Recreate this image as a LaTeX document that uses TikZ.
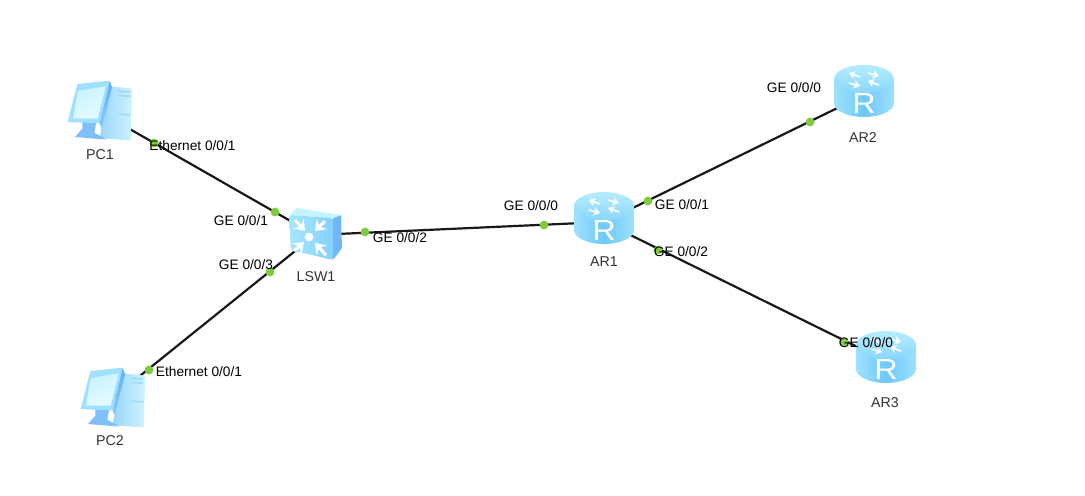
\documentclass[tikz,border=0pt]{standalone}
\usepackage{fontspec}
\usetikzlibrary{arrows.meta}
\setmainfont{Liberation Sans}
\tikzset{
  dev/.style={inner sep=0pt,minimum size=1pt},
  link/.style={draw=black!90,line width=1.25pt},
  dot/.style={circle,fill=dotgreen,inner sep=0pt,minimum size=5pt},
  port/.style={font=\fontsize{7.8}{9}\selectfont,inner sep=0pt,text=black},
  devname/.style={font=\fontsize{8.1}{9}\selectfont,inner sep=0pt,text=black!80},
  router/.pic={
    \path[left color=rbodyb,right color=rbodyb,middle color=rbodya]
      (-30,-16) -- (-30,8) arc[x radius=30,y radius=-14,start angle=180,end angle=360] -- (30,-16) -- cycle;
    \path[left color=rtopa,right color=rtopb,shading angle=0]
      (0,-16) ellipse[x radius=30,y radius=14];
    \foreach \xa/\ya/\xb/\yb in {-4/-18/-15/-22, 4/-22/15/-19, -15/-12/-4/-9, 15/-10/4/-14}{
      \draw[white,line width=1pt,-{Stealth[length=3.6pt,width=5pt]}] (\xa,\ya) -- (\xb,\yb);
    }
    \node[font=\fontsize{16.5}{17}\selectfont,text=white,inner sep=0pt,xscale=1.12,transform shape] at (0,9) {R};
  },
  switchicon/.pic={
    \path[fill=swside] (333,218) -- (341,215) -- (342,248) -- (333,260) -- cycle;
    \path[fill=swtop] (289,215) -- (297,208) -- (341,215) -- (333,218) -- cycle;
    \path[left color=swfa,right color=swfb,rounded corners=1.5pt]
      (289,215) -- (333,218) -- (333,260) -- (291,250) -- cycle;
    \fill[white] (309,237) circle[radius=4.4];
    \foreach \xa/\ya/\xb/\yb in {295/220/305/231, 325/221/315/231, 294/251/304/242, 326/255/315/243}{
      \draw[white,line width=1.7pt,-{Stealth[length=5.5pt,width=8pt,inset=1.8pt]}] (\xa,\ya) -- (\xb,\yb);
    }
  },
  pcicon/.pic={
    % tower
    \path[left color=pctowa,right color=pctowb]
      (172,48) -- (247,56) -- (242,212) -- (150,204) -- cycle;
    \fill[pcshade] (205,60) -- (240,63) -- (239,69) -- (205,67) -- cycle;
    \fill[pcshade] (205,74) -- (240,76) -- (239,81) -- (205,79) -- cycle;
    \fill[pcshade] (205,130) -- (242,132) -- (242,137) -- (205,135) -- cycle;
    % stand and base
    \fill[pcbase] (97,150) -- (140,150) -- (133,188) -- (170,209) -- (75,201) -- (97,176) -- cycle;
    % side strip
    \path[top color=pcside,bottom color=pcsideb] (179,32) -- (186,52) -- (155,175) -- (148,160) -- cycle;
    % monitor
    \fill[pcframe] (82,42) -- (179,32) -- (148,160) -- (53,156) -- cycle;
    \path[left color=pcscra,right color=pcscrb,shading angle=30]
      (83,63) -- (167,49) -- (143,146) -- (69,146) -- cycle;
  }
}
\definecolor{dotgreen}{HTML}{7FCB3C}
\definecolor{rbodya}{HTML}{6FC8F8}
\definecolor{rbodyb}{HTML}{9EE1FE}
\definecolor{rtopa}{HTML}{B5EDFF}
\definecolor{rtopb}{HTML}{8AD6FB}
\definecolor{swside}{HTML}{6DB8F8}
\definecolor{swtop}{HTML}{C5F3FF}
\definecolor{swfa}{HTML}{A5E6FF}
\definecolor{swfb}{HTML}{86D2FB}
\definecolor{pctowa}{HTML}{9AD6FC}
\definecolor{pctowb}{HTML}{CFF3FF}
\definecolor{pcshade}{HTML}{A0DCF8}
\definecolor{pcbase}{HTML}{7FBFFA}
\definecolor{pcside}{HTML}{5FB0FA}
\definecolor{pcsideb}{HTML}{8CC8FB}
\definecolor{pcframe}{HTML}{A0E0FF}
\definecolor{pcscra}{HTML}{C8F3FF}
\definecolor{pcscrb}{HTML}{E6FBFF}
\begin{document}
\begin{tikzpicture}[x=0.02cm,y=-0.02cm]
\useasboundingbox[fill=white] (0,0) rectangle (1085,495);
% device anchors
\node[dev] (PC1) at (100,112) {};
\node[dev] (PC2) at (110,400) {};
\node[dev] (LSW1) at (315,235) {};
\node[dev] (AR1) at (604,222) {};
\node[dev] (AR2) at (864,95) {};
\node[dev] (AR3) at (886,361) {};
% links
\draw[link] (PC1.center) -- (LSW1.center);
\draw[link] (PC2.center) -- (LSW1.center);
\draw[link] (LSW1.center) -- (AR1.center);
\draw[link] (AR1.center) -- (AR2.center);
\draw[link] (AR1.center) -- (AR3.center);
% icons
\pic[scale=1/3] at (50,70) {pcicon};
\pic[scale=1/3] at (63,357) {pcicon};
\pic at (0,0) {switchicon};
\pic at (604,222) {router};
\pic at (864,95) {router};
\pic at (886,361) {router};
% port dots
\foreach \n/\x/\y in {d1/154/143,d2/275/212,d3/270/272,d4/149/370,d5/365/232,d6/544/225,d7/648/201,d8/810/122,d9/658/250,d10/844/342}{
  \node[dot] (\n) at (\x,\y) {};
}
% port labels
\node[port] (p1) at (192.5,146) {Ethernet 0/0/1};
\node[port] (p2) at (241,221) {GE 0/0/1};
\node[port] (p3) at (246,265) {GE 0/0/3};
\node[port] (p4) at (199,372) {Ethernet 0/0/1};
\node[port] (p5) at (400,238) {GE 0/0/2};
\node[port] (p6) at (531,206) {GE 0/0/0};
\node[port] (p7) at (682,205) {GE 0/0/1};
\node[port] (p8) at (681,252) {GE 0/0/2};
\node[port] (p9) at (794,88) {GE 0/0/0};
\node[port] (p10) at (866,343) {GE 0/0/0};
% device names
\node[devname] (n1) at (100,155) {PC1};
\node[devname] (n2) at (110,441) {PC2};
\node[devname] (n3) at (316,277) {LSW1};
\node[devname] (n4) at (604,262) {AR1};
\node[devname] (n5) at (863,138) {AR2};
\node[devname] (n6) at (885,403) {AR3};
\end{tikzpicture}
\end{document}
